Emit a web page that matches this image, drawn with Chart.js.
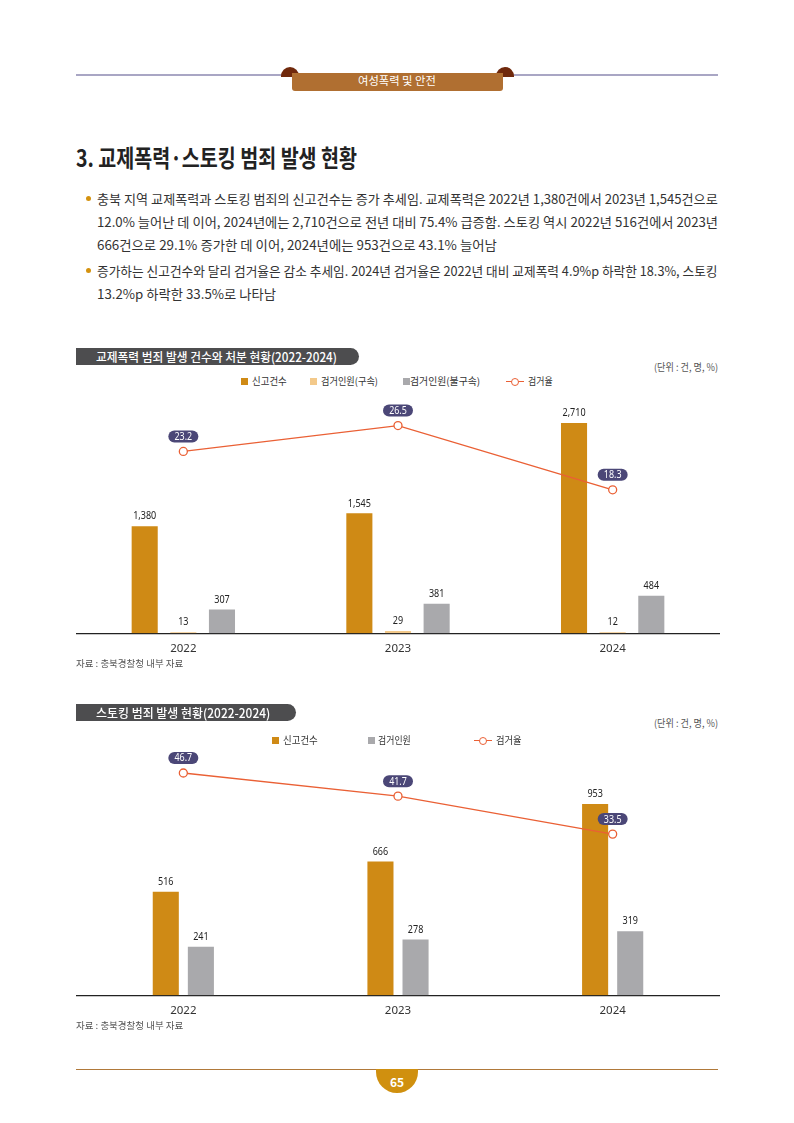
<!DOCTYPE html>
<html><head><meta charset="utf-8">
<script src="https://cdn.jsdelivr.net/npm/chart.js@4.4.1/dist/chart.umd.min.js"></script>
<style>
body{margin:0;width:794px;height:1123px;position:relative;background:#fff;font-family:"Noto Sans CJK KR","Noto Sans",sans-serif;overflow:hidden;color:#2b2b2b}
.a{position:absolute;white-space:nowrap}
.fit{transform-origin:0 50%}
.line{font-size:13px;height:20px;line-height:20px;color:#333}
.dot{position:absolute;width:5px;height:5px;border-radius:50%;background:#d4920f}
.sq{position:absolute;width:7px;height:7px}
.lg{font-size:10px;height:14px;line-height:14px;color:#333}
.licon{position:absolute;width:18px;height:1.3px;background:#ea6035}
.licon:after{content:"";position:absolute;left:5px;top:-3.5px;width:6px;height:6px;border:1.3px solid #ea6035;border-radius:50%;background:#fff}
.pill{position:absolute;background:#4d4d4f;height:17px;border-radius:0 9px 9px 0}
.ptxt{font-size:12.5px;height:17px;line-height:17px;color:#fff;font-weight:500}
.unit{font-size:10px;height:14px;line-height:14px;color:#555}
.src{font-size:9.5px;height:14px;line-height:14px;color:#555}
.chartbox{position:absolute}
</style></head><body>

<!-- header -->
<div class="a" style="left:76px;top:74px;width:642px;height:2px;background:#a9a6c4"></div>
<div class="a" style="left:281px;top:67px;width:18px;height:10px;background:#70290c;border-radius:9px 9px 0 0"></div>
<div class="a" style="left:496px;top:67px;width:18px;height:10px;background:#70290c;border-radius:9px 9px 0 0"></div>
<div class="a" style="left:292px;top:73px;width:211px;height:18px;background:#b06f31;border-radius:0 0 3px 3px"></div>
<div class="a fit" data-w="78" data-cx="397" style="top:73px;font-size:11px;height:15px;line-height:15px;color:#fff">여성폭력 및 안전</div>

<!-- title -->
<div class="a fit" data-w="281" style="left:76px;top:142px;font-size:24px;height:30px;line-height:30px;font-weight:700;color:#222">3. 교제폭력·스토킹 범죄 발생 현황</div>

<!-- bullets -->
<div class="dot" style="left:86px;top:196px"></div>
<div class="a fit line" data-w="621" style="left:97px;top:189px">충북 지역 교제폭력과 스토킹 범죄의 신고건수는 증가 추세임. 교제폭력은 2022년 1,380건에서 2023년 1,545건으로</div>
<div class="a fit line" data-w="621" style="left:97px;top:212px">12.0% 늘어난 데 이어, 2024년에는 2,710건으로 전년 대비 75.4% 급증함. 스토킹 역시 2022년 516건에서 2023년</div>
<div class="a fit line" data-w="400" style="left:97px;top:235px">666건으로 29.1% 증가한 데 이어, 2024년에는 953건으로 43.1% 늘어남</div>
<div class="dot" style="left:86px;top:268px"></div>
<div class="a fit line" data-w="621" style="left:97px;top:261px">증가하는 신고건수와 달리 검거율은 감소 추세임. 2024년 검거율은 2022년 대비 교제폭력 4.9%p 하락한 18.3%, 스토킹</div>
<div class="a fit line" data-w="179" style="left:97px;top:284px">13.2%p 하락한 33.5%로 나타남</div>

<!-- chart 1 header -->
<div class="pill" style="left:76px;top:348px;width:283px"></div>
<div class="a fit ptxt" data-w="241" style="left:96px;top:348px">교제폭력 범죄 발생 건수와 처분 현황(2022-2024)</div>
<div class="a fit unit" data-w="64" style="left:654px;top:360px">(단위 : 건, 명, %)</div>

<div class="sq" style="left:241px;top:378px;background:#cf8a15"></div>
<div class="a fit lg" data-w="35" style="left:252px;top:374px">신고건수</div>
<div class="sq" style="left:310px;top:378px;background:#f3c98a"></div>
<div class="a fit lg" data-w="57" style="left:321px;top:374px">검거인원(구속)</div>
<div class="sq" style="left:403px;top:378px;background:#a9a9ac"></div>
<div class="a fit lg" data-w="70" style="left:410px;top:374px">검거인원(불구속)</div>
<div class="licon" style="left:506px;top:381px"></div>
<div class="a fit lg" data-w="25" style="left:528px;top:374px">검거율</div>

<div class="chartbox" style="left:76px;top:380px;width:644px;height:277px"><canvas id="c1"></canvas></div>
<div class="a fit src" data-w="107" style="left:76px;top:656px">자료 : 충북경찰청 내부 자료</div>

<!-- chart 2 header -->
<div class="pill" style="left:76px;top:704px;width:220px"></div>
<div class="a fit ptxt" data-w="174" style="left:96px;top:704px">스토킹 범죄 발생 현황(2022-2024)</div>
<div class="a fit unit" data-w="64" style="left:654px;top:716px">(단위 : 건, 명, %)</div>

<div class="sq" style="left:272px;top:737px;background:#cf8a15"></div>
<div class="a fit lg" data-w="35" style="left:283px;top:733px">신고건수</div>
<div class="sq" style="left:368px;top:737px;background:#a9a9ac"></div>
<div class="a fit lg" data-w="33" style="left:378px;top:733px">검거인원</div>
<div class="licon" style="left:474px;top:740px"></div>
<div class="a fit lg" data-w="26" style="left:496px;top:733px">검거율</div>

<div class="chartbox" style="left:76px;top:735px;width:644px;height:284px"><canvas id="c2"></canvas></div>
<div class="a fit src" data-w="107" style="left:76px;top:1018px">자료 : 충북경찰청 내부 자료</div>

<!-- footer -->
<div class="a" style="left:76px;top:1069px;width:642px;height:1.2px;background:#b0793a"></div>
<div class="a" style="left:376px;top:1069px;width:42px;height:24px;background:#d0900f;border-radius:0 0 21px 21px"></div>
<div class="a" style="left:376px;top:1074px;width:42px;height:16px;line-height:16px;text-align:center;color:#fff;font-weight:700;font-size:12px">65</div>

<script>
// ---- data ----
const years = ['2022', '2023', '2024'];
const datingReports = [1380, 1545, 2710];
const datingArrestDetained = [13, 29, 12];
const datingArrestNotDetained = [307, 381, 484];
const datingArrestRate = [23.2, 26.5, 18.3];
const stalkingReports = [516, 666, 953];
const stalkingArrests = [241, 278, 319];
const stalkingArrestRate = [46.7, 41.7, 33.5];

// ---- text fitting ----
document.querySelectorAll('.fit').forEach(el => {
  const target = parseFloat(el.dataset.w);
  const nat = el.scrollWidth;
  const s = target / nat;
  el.style.transform = 'scaleX(' + s + ')';
  if (el.dataset.cx) el.style.left = (parseFloat(el.dataset.cx) - target / 2) + 'px';
});

const NUMFONT = '"Noto Sans","DejaVu Sans",sans-serif';
const ORANGE = '#cf8a15', LIGHT = '#f3c98a', GREY = '#a9a9ac', LINE = '#ea6035', NAVY = '#4b4777';

function narrowText(ctx, txt, x, y, sx) {
  ctx.save();
  ctx.translate(x, y);
  ctx.scale(sx, 1);
  ctx.fillText(txt, 0, 0);
  ctx.restore();
}

const labelPlugin = {
  id: 'valueLabels',
  afterDatasetsDraw(chart) {
    const ctx = chart.ctx;
    chart.data.datasets.forEach((ds, i) => {
      const meta = chart.getDatasetMeta(i);
      meta.data.forEach((el, j) => {
        const v = ds.data[j];
        ctx.save();
        ctx.textAlign = 'center';
        ctx.textBaseline = 'middle';
        if (ds.type === 'line') {
          const w = 30, h = 12, x = el.x, y = el.y - 15;
          ctx.fillStyle = NAVY;
          ctx.beginPath();
          ctx.roundRect(x - w / 2, y - h / 2, w, h, h / 2);
          ctx.fill();
          ctx.fillStyle = '#fff';
          ctx.font = '10.5px ' + NUMFONT;
          narrowText(ctx, v.toFixed(1), x, y + 0.5, 0.85);
        } else {
          ctx.fillStyle = '#222';
          ctx.font = '11px ' + NUMFONT;
          narrowText(ctx, v.toLocaleString('en-US'), el.x, el.y - 10, 0.82);
        }
        ctx.restore();
      });
    });
  }
};

function lineDs(data) {
  return {
    type: 'line', data, yAxisID: 'y1', order: 0,
    borderColor: LINE, borderWidth: 1.3, tension: 0,
    pointRadius: 4, pointHoverRadius: 4, pointBackgroundColor: '#fff',
    pointBorderColor: LINE, pointBorderWidth: 1.3
  };
}
function barDs(data, color, cat, bar) {
  return { type: 'bar', data, backgroundColor: color, yAxisID: 'y', order: 1,
    categoryPercentage: cat, barPercentage: bar };
}
function opts(yMax, y1Min, y1Max, padTop) {
  return {
    responsive: true, maintainAspectRatio: false, animation: false,
    layout: { autoPadding: false, padding: { top: padTop, left: 0, right: 0, bottom: 0 } },
    plugins: { legend: { display: false }, tooltip: { enabled: false } },
    scales: {
      x: {
        grid: { display: false },
        border: { display: true, color: '#222', width: 1.2 },
        ticks: { color: '#333', padding: 1, font: { family: NUMFONT, size: 11.5 } }
      },
      y: { display: false, min: 0, max: yMax },
      y1: { display: false, min: y1Min, max: y1Max }
    }
  };
}

new Chart(document.getElementById('c1'), {
  data: {
    labels: years,
    datasets: [
      lineDs(datingArrestRate),
      barDs(datingReports, ORANGE, 0.54, 0.675),
      barDs(datingArrestDetained, LIGHT, 0.54, 0.675),
      barDs(datingArrestNotDetained, GREY, 0.54, 0.675)
    ]
  },
  options: opts(3000, 0, 29.7, 20.5),
  plugins: [labelPlugin]
});

new Chart(document.getElementById('c2'), {
  data: {
    labels: years,
    datasets: [
      lineDs(stalkingArrestRate),
      barDs(stalkingReports, ORANGE, 0.327, 0.743),
      barDs(stalkingArrests, GREY, 0.327, 0.743)
    ]
  },
  options: opts(1200, -1.3, 50.7, 19.5),
  plugins: [labelPlugin]
});
</script>
</body></html>
